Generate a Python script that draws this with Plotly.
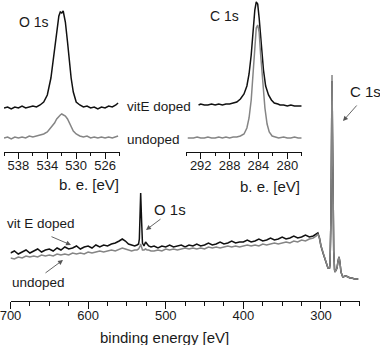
import plotly.graph_objects as go

W, H = 380, 345

# ---------------- main survey spectrum ----------------
main_be = [700, 695, 690, 685, 680, 675, 670, 665, 660, 655,
           650, 645, 640, 635, 630, 625, 620, 615, 610, 605,
           600, 595, 590, 585, 580, 575, 570, 565, 560, 556,
           552, 548, 544, 540, 537, 535, 534, 533, 532.3, 531,
           530, 528, 526, 524, 522, 519, 515, 510, 505, 500,
           495, 490, 485, 480, 475, 470, 465, 460, 455, 450,
           445, 440, 435, 430, 425, 420, 415, 410, 405, 400,
           395, 390, 385, 380, 375, 370, 365, 360, 355, 350,
           345, 340, 335, 330, 325, 320, 315, 310, 306, 304,
           302, 300, 297, 294, 291, 289, 288.4, 287.2, 286.3, 285.8,
           285.2, 284.5, 283.6, 282.5, 281.9, 280.5, 279.4, 278, 276.8, 275.8,
           275, 274.2, 272.5, 271.6, 269, 267.7, 265, 262.6, 260, 257,
           254, 252]

main_doped = [48, 50, 47, 49, 51, 48, 50, 52, 49, 51,
              52, 50, 53, 51, 54, 52, 53, 55, 52, 54,
              55, 53, 56, 54, 56, 55, 57, 58, 60, 62,
              60, 57, 56, 55, 56, 57, 62, 80, 108, 78,
              58, 55, 59, 57, 55, 54, 55, 53, 55, 54,
              56, 54, 55, 56, 54, 56, 55, 57, 55, 56,
              58, 56, 57, 59, 57, 58, 60, 58, 59, 59,
              61, 59, 60, 62, 60, 61, 63, 61, 62, 64,
              62, 63, 65, 63, 64, 66, 64, 65, 67, 68,
              63, 55, 47, 39, 33, 33, 36, 80, 165, 220,
              170, 110, 50, 31, 29, 31, 33, 40, 44, 40,
              33, 29, 25, 24, 25, 25, 24, 23, 23, 22,
              22, 22]

main_undoped = [43, 42, 44, 43, 45, 44, 45, 44, 46, 45,
                46, 45, 47, 46, 47, 46, 48, 47, 48, 47,
                49, 48, 49, 50, 49, 50, 51, 50, 52, 53,
                52, 51, 50, 51, 51, 52, 53, 55, 57, 53,
                51, 51, 52, 51, 51, 50, 50, 51, 50, 52,
                51, 52, 51, 52, 53, 52, 53, 52, 53, 52,
                54, 53, 54, 53, 54, 55, 54, 55, 54, 55,
                56, 55, 56, 55, 57, 56, 57, 58, 57, 58,
                59, 58, 60, 59, 61, 60, 62, 63, 65, 67,
                63, 55, 47, 39, 33, 33, 36, 82, 170, 226,
                170, 110, 50, 31, 29, 31, 33, 40, 44, 40,
                33, 29, 25, 24, 25, 25, 24, 23, 23, 22,
                22, 22]

main_ticks = [700, 600, 500, 400, 300]

# ---------------- O 1s inset ----------------
o_be = [540, 539.5, 539, 538.5, 538, 537.5, 537, 536.5, 536, 535.5,
        535, 534.5, 534, 533.5, 533, 532.7, 532.4, 532.2, 532, 531.8,
        531.5, 531.2, 531, 530.7, 530.4, 530, 529.5, 529, 528.5, 528,
        527.5, 527, 526.5, 526, 525.5, 525, 524.5, 524.2]
o_doped = [42, 43, 41, 43, 42, 44, 42, 43, 44, 43,
           45, 48, 55, 72, 100, 120, 134, 138, 137, 139,
           128, 108, 92, 72, 58, 48, 45, 43, 44, 42,
           43, 41, 43, 42, 44, 43, 45, 47]
o_undoped = [12, 13, 11, 13, 12, 13, 12, 14, 13, 14,
             15, 16, 18, 22, 27, 31, 34, 35, 36, 35,
             34, 31, 28, 23, 19, 16, 14, 13, 14, 12,
             13, 12, 13, 12, 13, 12, 13, 14]
o_ticks = [538, 534, 530, 526]

# ---------------- C 1s inset ----------------
c_be_doped = [292.3, 292, 291.5, 291, 290.5, 290, 289.5, 289, 288.5, 288,
              287.5, 287, 286.5, 286, 285.6, 285.3, 285, 284.7, 284.5, 284.3,
              284.1, 283.9, 283.6, 283.3, 283, 282.6, 282.2, 281.8, 281.3, 281,
              280.5, 280, 279.5, 279, 278.5, 278]
c_doped = [45, 46, 45, 45, 46, 45, 46, 45, 46, 46,
           47, 48, 51, 56, 64, 76, 95, 122, 140, 148,
           146, 132, 105, 80, 64, 55, 50, 47, 46, 45,
           45, 44, 45, 44, 44, 44]
c_be_undoped = [293.8, 293.5, 293, 292.5, 292, 291.5, 291, 290.5, 290, 289.5,
                289, 288.5, 288, 287.5, 287, 286.5, 286, 285.6, 285.3, 285,
                284.7, 284.5, 284.3, 284.1, 283.9, 283.7, 283.4, 283.1, 282.8, 282.5,
                282.1, 281.7, 281.2, 280.5, 280, 279.5, 279, 278.5, 278]
c_undoped = [12, 12, 12, 13, 12, 12, 13, 12, 12, 13,
             12, 13, 12, 13, 13, 14, 16, 22, 32, 50,
             80, 105, 122, 125, 118, 96, 66, 42, 26, 18,
             14, 13, 12, 13, 12, 12, 13, 12, 12]
c_ticks = [292, 288, 284, 280]

BLACK = "#111111"
GRAY = "#858585"
FONT = "Arial, Liberation Sans, sans-serif"
TXT = "#1a1a1a"


def fx(px):
    return px / W


def fy(py):
    return 1 - py / H


fig = go.Figure()
fig.add_trace(go.Scatter(x=main_be, y=main_doped, mode="lines",
                         line=dict(color=BLACK, width=1.5), xaxis="x", yaxis="y"))
fig.add_trace(go.Scatter(x=main_be, y=main_undoped, mode="lines",
                         line=dict(color=GRAY, width=1.5), xaxis="x", yaxis="y"))
fig.add_trace(go.Scatter(x=o_be, y=o_doped, mode="lines",
                         line=dict(color=BLACK, width=1.5), xaxis="x2", yaxis="y2"))
fig.add_trace(go.Scatter(x=o_be, y=o_undoped, mode="lines",
                         line=dict(color=GRAY, width=1.5), xaxis="x2", yaxis="y2"))
fig.add_trace(go.Scatter(x=c_be_doped, y=c_doped, mode="lines",
                         line=dict(color=BLACK, width=1.5), xaxis="x3", yaxis="y3"))
fig.add_trace(go.Scatter(x=c_be_undoped, y=c_undoped, mode="lines",
                         line=dict(color=GRAY, width=1.5), xaxis="x3", yaxis="y3"))

axis_common = dict(showline=True, linecolor="#111", linewidth=1.2, ticks="outside",
                   tickcolor="#111", tickwidth=1.2, showgrid=False, zeroline=False,
                   ticklabeloverflow="allow", automargin=False,
                   tickfont=dict(size=13, color=TXT, family=FONT))

fig.update_layout(
    width=W, height=H, margin=dict(l=0, r=0, t=0, b=0, autoexpand=False),
    paper_bgcolor="white", plot_bgcolor="rgba(0,0,0,0)", showlegend=False,
    font=dict(family=FONT, color=TXT),
    xaxis=dict(domain=[fx(10.5), fx(359.8)], range=[700, 250], anchor="y",
               tickmode="array", tickvals=main_ticks, ticklen=7, ticklabelstandoff=-5,
               minor=dict(dtick=25, tick0=0, ticklen=4, ticks="outside", tickcolor="#111", tickwidth=1.2),
               **axis_common),
    yaxis=dict(domain=[fy(301), 1], range=[0, 301], visible=False),
    xaxis2=dict(domain=[fx(4), fx(119.5)], range=[540, 524], anchor="y2",
                tickmode="array", tickvals=o_ticks, ticklen=6, ticklabelstandoff=-4,
                minor=dict(dtick=2, tick0=0, ticklen=3.5, ticks="outside", tickcolor="#111", tickwidth=1.2),
                **axis_common),
    yaxis2=dict(domain=[fy(151.5), 1], range=[-1.5, 150], visible=False),
    xaxis3=dict(domain=[fx(186.3), fx(301.7)], range=[294, 278], anchor="y3",
                tickmode="array", tickvals=c_ticks, ticklen=6, ticklabelstandoff=-4,
                minor=dict(dtick=2, tick0=0, ticklen=3.5, ticks="outside", tickcolor="#111", tickwidth=1.2),
                **axis_common),
    yaxis3=dict(domain=[fy(151.5), 1], range=[-1.5, 150], visible=False),
)

labels = [
    ("O 1s", 17, 21.5, "left", 14),
    ("C 1s", 208, 16, "left", 14),
    ("vitE doped", 125, 106, "left", 13.5),
    ("undoped", 125, 139, "left", 13.5),
    ("b. e. [eV]", 121, 184, "right", 15),
    ("b. e. [eV]", 301.5, 186, "right", 15),
    ("vit E doped", 5, 224, "left", 13.5),
    ("undoped", 10, 282, "left", 13.5),
    ("O 1s", 152, 209, "left", 15),
    ("C 1s", 348, 91, "left", 15),
    ("binding energy [eV]", 164, 337, "center", 15),
]
for text, x, y, anchor, size in labels:
    fig.add_annotation(text=text, x=fx(x), y=fy(y), xref="paper", yref="paper",
                       xanchor=anchor, yanchor="middle", showarrow=False,
                       font=dict(size=size, color=TXT, family=FONT))

# arrows: (tail_x, tail_y, head_x, head_y) in pixels
arrows = [(50, 236, 71, 245), (44, 274, 63, 260), (162, 218, 146, 230), (358, 104, 343, 121)]
for tx, ty, hx, hy in arrows:
    fig.add_annotation(text="", x=fx(hx), y=fy(hy), xref="paper", yref="paper",
                       ax=tx - hx, ay=ty - hy, showarrow=True, arrowhead=2,
                       arrowsize=1.1, arrowwidth=0.9, arrowcolor="#555",
                       standoff=0, startstandoff=0)

fig.write_html("out.html")
